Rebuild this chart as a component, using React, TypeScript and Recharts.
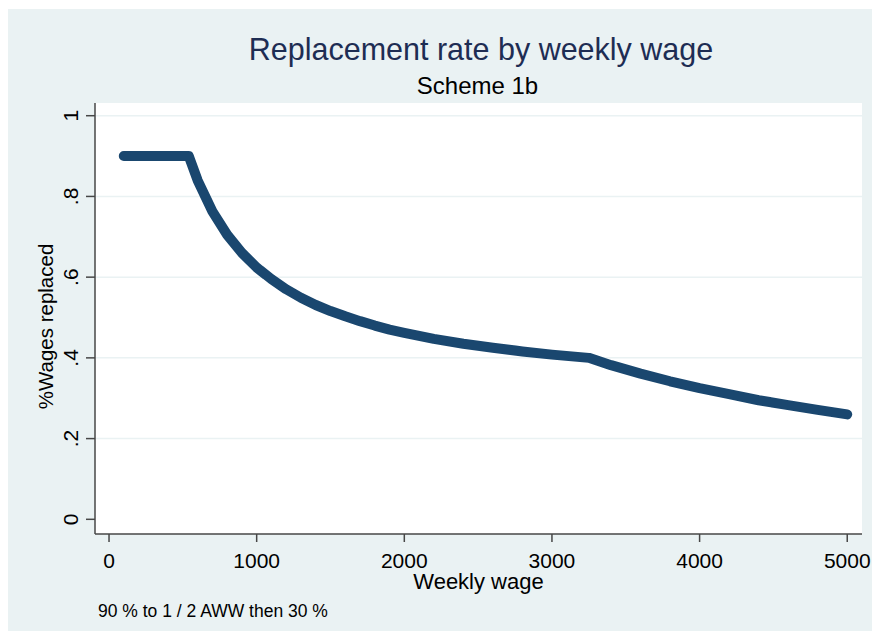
import React from 'react';
import { LineChart, Line, XAxis, YAxis, CartesianGrid } from 'recharts';

// weekly wage (x) and share of wages replaced (y)
const wages = [
  100, 200, 300, 400, 500, 540, 600, 700, 800, 900, 1000, 1100, 1200, 1300, 1400,
  1500, 1600, 1700, 1800, 1900, 2000, 2200, 2400, 2600, 2800, 3000, 3250, 3400,
  3600, 3800, 4000, 4200, 4400, 4600, 4800, 5000,
];
const rates = [
  0.9, 0.9, 0.9, 0.9, 0.9, 0.9, 0.84, 0.763, 0.705, 0.66, 0.624, 0.595, 0.57, 0.549, 0.531,
  0.516, 0.503, 0.491, 0.48, 0.47, 0.462, 0.447, 0.435, 0.425, 0.416, 0.408, 0.4, 0.382,
  0.361, 0.342, 0.325, 0.31, 0.295, 0.283, 0.271, 0.26,
];
const xTicks = [0, 1000, 2000, 3000, 4000, 5000];
const yTicks = [0, 0.2, 0.4, 0.6, 0.8, 1];
const yGrid = [0.2, 0.4, 0.6, 0.8, 1];

const title = 'Replacement rate by weekly wage';
const subtitle = 'Scheme 1b';
const xTitle = 'Weekly wage';
const yTitle = '%Wages replaced';
const note = '90 % to 1 / 2 AWW then 30 %';

const data = wages.map((w, i) => ({ wage: w, rate: rates[i] }));

const FONT = '"Liberation Sans", Arial, Helvetica, sans-serif';
const BG = '#EAF2F3';
const NAVY = '#1A476F';
const AXIS = '#474747';

const fmtY = (v: number) => (v === 0 ? '0' : v === 1 ? '1' : String(v).replace(/^0/, ''));

const YTick = (props: any) => {
  const { x, y, payload } = props;
  const cx = x - 13.5;
  return (
    <text
      x={cx}
      y={y}
      dy="0.35em"
      textAnchor="middle"
      transform={`rotate(-90 ${cx} ${y})`}
      fill="#000"
      fontSize={21}
      fontFamily={FONT}
    >
      {fmtY(payload.value)}
    </text>
  );
};

const W = 864;
const H = 622;

export default function App() {
  return (
    <div
      style={{
        position: 'fixed',
        left: 8,
        top: 9,
        width: W,
        height: H,
        background: BG,
        fontFamily: FONT,
        overflow: 'visible',
      }}
    >
      <LineChart
        width={W}
        height={H}
        data={data}
        margin={{ top: 94, right: 10, left: 27, bottom: 57 }}
        style={{ overflow: 'visible' }}
      >
        <CartesianGrid
          vertical={false}
          horizontalValues={yGrid}
          stroke={BG}
          strokeWidth={1.5}
          fill="#ffffff"
        />
        <XAxis
          type="number"
          dataKey="wage"
          domain={[-95, 5100]}
          ticks={xTicks}
          allowDataOverflow
          height={40}
          tickSize={8}
          tickMargin={11}
          axisLine={{ stroke: AXIS, strokeWidth: 1.5 }}
          tickLine={{ stroke: AXIS, strokeWidth: 1.5 }}
          tick={{ fill: '#000', fontSize: 21, fontFamily: FONT }}
        />
        <YAxis
          type="number"
          domain={[-0.0364, 1.0315]}
          ticks={yTicks}
          allowDataOverflow
          width={60}
          tickSize={9}
          tickMargin={2}
          axisLine={{ stroke: AXIS, strokeWidth: 1.5 }}
          tickLine={{ stroke: AXIS, strokeWidth: 1.5 }}
          tick={<YTick />}
        />
        <Line
          type="linear"
          dataKey="rate"
          stroke={NAVY}
          strokeWidth={10}
          strokeLinecap="round"
          strokeLinejoin="round"
          dot={false}
          activeDot={false}
          isAnimationActive={false}
        />
      </LineChart>
      <svg
        width={W}
        height={H}
        style={{ position: 'absolute', left: 0, top: 0, pointerEvents: 'none' }}
        fontFamily={FONT}
      >
        <text x={473} y={51} textAnchor="middle" fontSize={30.5} fill="#1E2D53">
          {title}
        </text>
        <text x={469.5} y={85} textAnchor="middle" fontSize={24} fill="#000">
          {subtitle}
        </text>
        <text x={470.5} y={580} textAnchor="middle" fontSize={22} fill="#000">
          {xTitle}
        </text>
        <text
          x={45}
          y={317.5}
          textAnchor="middle"
          fontSize={20.5}
          fill="#000"
          transform="rotate(-90 45 317.5)"
        >
          {yTitle}
        </text>
        <text x={90} y={608} fontSize={17.5} fill="#000">
          {note}
        </text>
      </svg>
    </div>
  );
}
